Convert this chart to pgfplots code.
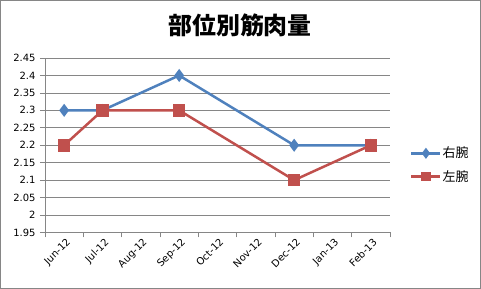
\documentclass[border=0pt]{standalone}
\usepackage{pgfplots}
\pgfplotsset{compat=1.18}
\usepackage{fontspec}
\setmainfont{DejaVu Sans}
\newfontfamily\cjk{Noto Sans CJK JP}
\definecolor{sblue}{HTML}{4F81BD}
\definecolor{sred}{HTML}{C0504D}
\definecolor{gridgray}{HTML}{868686}
\begin{document}
\begin{tikzpicture}
\useasboundingbox (0,0) rectangle (481bp,289bp);
\draw[draw=gridgray, line width=1bp] (0.5bp,0.5bp) rectangle (480.5bp,288.5bp);
\node[font=\cjk\bfseries\fontsize{24}{27}\selectfont] at (240bp,263.5bp) {部位別筋肉量};
\begin{axis}[
  at={(45bp,56.5bp)}, anchor=south west,
  scale only axis, width=345bp, height=174.5bp,
  xmin=-0.5, xmax=8.5, ymin=1.95, ymax=2.45,
  axis x line*=bottom, axis y line*=left,
  axis line style={-, draw=gridgray, line width=0.75bp},
  ymajorgrids, grid style={draw=gridgray, line width=0.75bp},
  ytick={1.95,2.0,2.05,2.1,2.15,2.2,2.25,2.3,2.35,2.4,2.45},
  yticklabels={1.95,2,2.05,2.1,2.15,2.2,2.25,2.3,2.35,2.4,2.45},
  xtick={0,1,2,3,4,5,6,7,8},
  xticklabels={Jun-12,Jul-12,Aug-12,Sep-12,Oct-12,Nov-12,Dec-12,Jan-13,Feb-13},
  minor xtick={-0.5,0.5,1.5,2.5,3.5,4.5,5.5,6.5,7.5,8.5},
  major x tick style={draw=none},
  minor x tick style={draw=gridgray, line width=0.75bp},
  major y tick style={draw=gridgray, line width=0.75bp},
  tick align=outside, major tick length=5bp, minor tick length=5bp,
  /pgf/number format/assume math mode=true,
  yticklabel style={font=\fontsize{10}{12}\selectfont, xshift=-1bp},
  xticklabel style={font=\fontsize{10}{12}\selectfont, rotate=45, anchor=north east, inner sep=1bp, xshift=2bp},
  legend style={draw=none, fill=none, at={(axis description cs:1.058,0.387)}, anchor=west,
    inner sep=0pt, row sep=9bp, font=\cjk\fontsize{13}{15}\selectfont,
    nodes={inner sep=1bp}},
  legend cell align=left,
  legend image code/.code={\draw[mark repeat=2,mark phase=2, mark size=3.5bp] plot coordinates {(0bp,0bp) (14.5bp,0bp) (29bp,0bp)};},
]
\addplot[sblue, line width=2.5bp, mark=diamond*, mark size=4.5bp, mark options={solid}]
  coordinates {(0,2.3) (1,2.3) (3,2.4) (6,2.2) (8,2.2)};
\addlegendentry{右腕}
\addplot[sred, line width=2.5bp, mark=square*, mark size=5bp, mark options={solid}]
  coordinates {(0,2.2) (1,2.3) (3,2.3) (6,2.1) (8,2.2)};
\addlegendentry{左腕}
\end{axis}
\end{tikzpicture}
\end{document}
